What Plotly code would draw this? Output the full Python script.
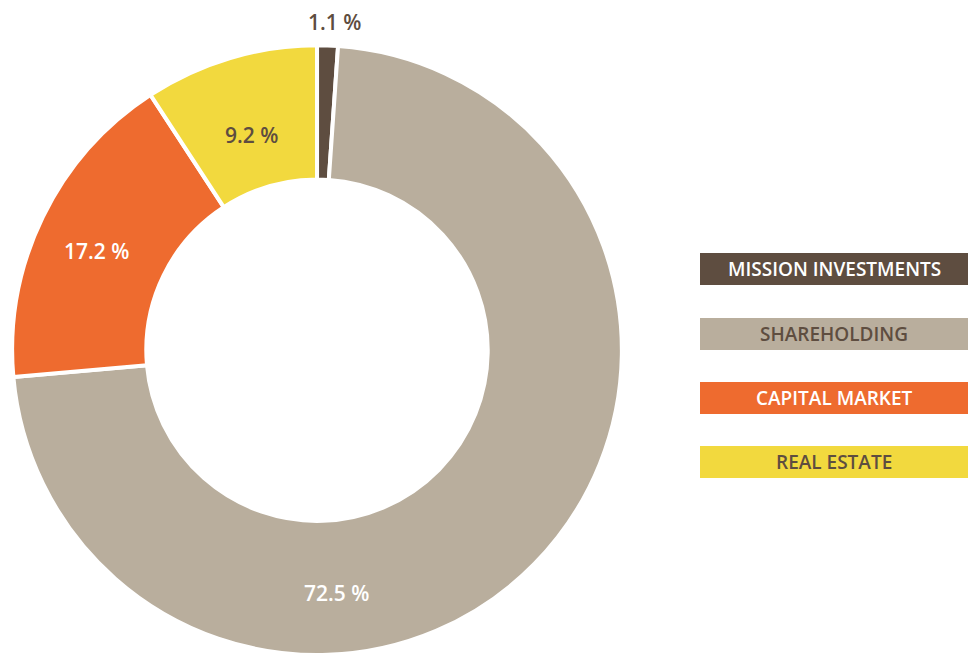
import plotly.graph_objects as go

categories = ["MISSION INVESTMENTS", "SHAREHOLDING", "CAPITAL MARKET", "REAL ESTATE"]
values = [1.1, 72.5, 17.2, 9.2]
value_labels = ["1.1 %", "72.5 %", "17.2 %", "9.2 %"]
colors = ["#5e4d40", "#b9ae9d", "#ee6b2f", "#f2d93e"]
label_colors = ["#5e4d40", "#ffffff", "#ffffff", "#5e4d40"]
legend_text_colors = ["#ffffff", "#5e4d40", "#ffffff", "#5e4d40"]

W, H = 968, 657
fig = go.Figure()
fig.add_trace(go.Pie(
    labels=categories,
    values=values,
    sort=False,
    direction="clockwise",
    rotation=0,
    hole=0.56,
    marker=dict(colors=colors, line=dict(color="#ffffff", width=4)),
    textinfo="none",
    hoverinfo="label+percent",
    showlegend=False,
    domain=dict(x=[0.01, 0.645], y=[0.003, 0.931]),
))

# value label positions (pixel centres)
label_pos = [(334, 22), (336, 593), (96, 251), (251, 135)]
for i, (x, y) in enumerate(label_pos):
    fig.add_annotation(
        x=x / W, y=1 - y / H, xref="paper", yref="paper",
        text=value_labels[i], showarrow=False,
        font=dict(family="Open Sans", size=21, color=label_colors[i], weight=600),
        xanchor="center", yanchor="middle",
    )

# legend as brush-like colored bars
legend_y = [269, 334, 398, 462]
for i, cat in enumerate(categories):
    x0, x1 = 700 / W, 968 / W
    yt, yb = 1 - (legend_y[i] - 16) / H, 1 - (legend_y[i] + 16) / H
    fig.add_shape(
        type="rect", xref="paper", yref="paper",
        x0=x0, x1=x1, y0=yb, y1=yt,
        fillcolor=colors[i], line=dict(width=0), layer="below",
    )
    fig.add_annotation(
        x=834 / W, y=1 - legend_y[i] / H, xref="paper", yref="paper",
        text=cat, showarrow=False,
        font=dict(family="Open Sans", size=19, color=legend_text_colors[i], weight=600),
        xanchor="center", yanchor="middle",
    )

fig.update_layout(
    width=W, height=H,
    margin=dict(l=0, r=0, t=0, b=0),
    paper_bgcolor="#ffffff",
    plot_bgcolor="#ffffff",
)
fig.write_html(
    "out.html",
    config={"displayModeBar": False},
    post_script="document.body.style.margin='0';document.body.style.overflow='hidden';",
)
